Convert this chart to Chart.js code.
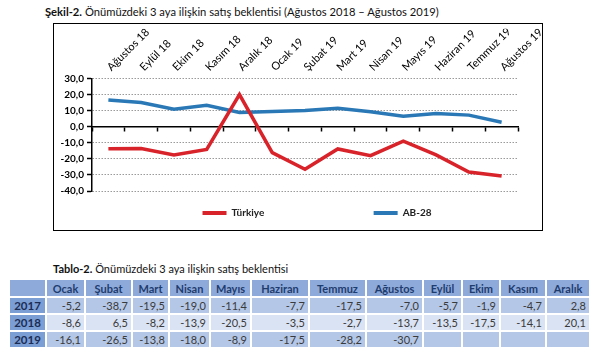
<!DOCTYPE html>
<html>
<head>
<meta charset="utf-8">
<script src="https://cdn.jsdelivr.net/npm/chart.js@4.4.0/dist/chart.umd.min.js"></script>
<style>
  body { margin: 0; background: #fff; font-family: Lato, "Liberation Sans", sans-serif; }
  #title { position: absolute; left: 45px; top: 5px; font-size: 11.2px; color: #111; white-space: nowrap; }
  #box { position: absolute; left: 53px; top: 23px; width: 488px; height: 206px; border: 1px solid #000; }
  #chart { position: absolute; left: 54px; top: 24px; }
  #ttitle { position: absolute; left: 53px; top: 262px; font-size: 11px; color: #111; white-space: nowrap; }
  table { position: absolute; left: 8px; top: 278px; border-collapse: collapse; table-layout: fixed; font-size: 11px; }
  td, th { border: 2px solid #fff; height: 15px; padding: 0 3px; overflow: hidden; white-space: nowrap; }
  th { background: #8eaadb; color: #1f3c6e; font-weight: bold; text-align: center; height: 16px; }
  td { text-align: right; color: #3a3a3a; }
  td.yr { background: #7b9ed4; color: #1c2d55; font-weight: bold; text-align: center; font-size: 11.5px; }
  tr.r0 td, tr.r2 td { background: #b4c7e7; }
  tr.r1 td { background: #dae3f3; }
  tr.r0 td.yr, tr.r1 td.yr, tr.r2 td.yr { background: #7b9ed4; }
</style>
</head>
<body>
<div id="title"><b>Şekil-2.</b> Önümüzdeki 3 aya ilişkin satış beklentisi (Ağustos 2018 – Ağustos 2019)</div>
<div id="box"></div>
<canvas id="chart" width="540" height="206"></canvas>
<div id="ttitle"><b>Tablo-2.</b> Önümüzdeki 3 aya ilişkin satış beklentisi</div>
<table id="tbl"></table>
<script>
// ---------- DATA ----------
const months = ['Ağustos 18', 'Eylül 18', 'Ekim 18', 'Kasım 18', 'Aralık 18', 'Ocak 19', 'Şubat 19',
  'Mart 19', 'Nisan 19', 'Mayıs 19', 'Haziran 19', 'Temmuz 19', 'Ağustos 19'];
const turkiye = [-13.7, -13.5, -17.5, -14.1, 20.1, -16.1, -26.5, -13.8, -18.0, -8.9, -17.5, -28.2, -30.7];
const ab28 = [16.7, 15.2, 11.0, 13.4, 9.0, 9.5, 10.2, 11.6, 9.4, 6.6, 8.3, 7.3, 2.9];
const yTicks = [-40, -30, -20, -10, 0, 10, 20, 30];

// table
const tableMonths = ['Ocak', 'Şubat', 'Mart', 'Nisan', 'Mayıs', 'Haziran', 'Temmuz', 'Ağustos', 'Eylül', 'Ekim', 'Kasım', 'Aralık'];
const tableYears = ['2017', '2018', '2019'];
const values2017 = [-5.2, -38.7, -19.5, -19.0, -11.4, -7.7, -17.5, -7.0, -5.7, -1.9, -4.7, 2.8];
const values2018 = [-8.6, 6.5, -8.2, -13.9, -20.5, -3.5, -2.7, -13.7, -13.5, -17.5, -14.1, 20.1];
const values2019 = [-16.1, -26.5, -13.8, -18.0, -8.9, -17.5, -28.2, -30.7, null, null, null, null];

const fmt = v => v.toFixed(1).replace('.', ',');

// ---------- TABLE ----------
const colWidths = [37, 39, 47, 37, 41, 41, 58, 57, 57, 39, 38, 46, 44];
const tbl = document.getElementById('tbl');
let html = '<colgroup>' + colWidths.map(w => '<col style="width:' + w + 'px">').join('') + '</colgroup>';
html += '<tr><th></th>' + tableMonths.map(m => '<th>' + m + '</th>').join('') + '</tr>';
[values2017, values2018, values2019].forEach((row, i) => {
  html += '<tr class="r' + i + '"><td class="yr">' + tableYears[i] + '</td>' +
    row.map(v => '<td>' + (v === null ? '' : fmt(v)) + '</td>').join('') + '</tr>';
});
tbl.innerHTML = html;

// ---------- CHART ----------
// legend sits a bit right of centre in the original
const legendShift = {
  id: 'legendShift',
  afterLayout(chart) {
    chart.legend.left += 31;
    chart.legend.right += 31;
  }
};

new Chart(document.getElementById('chart'), {
  type: 'line',
  data: {
    labels: months,
    datasets: [{
      label: 'Türkiye',
      data: turkiye,
      borderColor: '#d9232a',
      backgroundColor: '#d9232a',
      borderWidth: 3.5,
      pointRadius: 0,
      tension: 0
    }, {
      label: 'AB-28',
      data: ab28,
      borderColor: '#2a78b6',
      backgroundColor: '#2a78b6',
      borderWidth: 3.5,
      pointRadius: 0,
      tension: 0
    }]
  },
  options: {
    responsive: false,
    animation: false,
    layout: { padding: { left: 0, right: 76, top: 4.7, bottom: 2 } },
    plugins: {
      tooltip: { enabled: false },
      legend: {
        position: 'bottom',
        labels: {
          boxWidth: 24,
          boxHeight: 4,
          padding: 17,
          color: '#222',
          font: { family: 'Lato', size: 10, weight: 'bold' },
          generateLabels(chart) {
            const items = Chart.defaults.plugins.legend.labels.generateLabels(chart);
            items.forEach(it => { it.lineWidth = 0; });
            items[0].text += '\u00a0'.repeat(38);
            return items;
          }
        }
      }
    },
    scales: {
      x: {
        position: { y: 0 },
        offset: true,
        grid: { display: true, drawOnChartArea: false, offset: true, tickLength: 4, tickColor: '#000', tickWidth: 1.5 },
        border: { display: true, color: '#000', width: 1.5 },
        ticks: { display: false }
      },
      xTop: {
        type: 'category',
        position: 'top',
        labels: months,
        offset: true,
        grid: { display: false, drawTicks: false },
        border: { display: false },
        ticks: { minRotation: 45, maxRotation: 45, autoSkip: false, padding: 5, labelOffset: 10, color: '#000', font: { family: 'Lato', size: 11 } },
        afterFit(s) { s.height = 50; }
      },
      y: {
        min: -40,
        max: 30,
        afterBuildTicks(s) { s.ticks = yTicks.map(v => ({ value: v })); },
        ticks: { color: '#000', padding: 3, font: { family: 'Lato', size: 10, weight: 'bold' }, callback: v => fmt(v) },
        grid: {
          color: c => c.tick && c.tick.value === 0 ? 'rgba(0,0,0,0)' : '#9a9a9a',
          lineWidth: 1,
          tickLength: 5,
          tickColor: '#000',
          tickWidth: 1.5,
          tickBorderDash: []
        },
        border: { display: true, color: '#000', width: 1.5, dash: [1.5, 1.5] },
        afterFit(s) { s.width = 38; }
      }
    }
  },
  plugins: [legendShift]
});
</script>
</body>
</html>
